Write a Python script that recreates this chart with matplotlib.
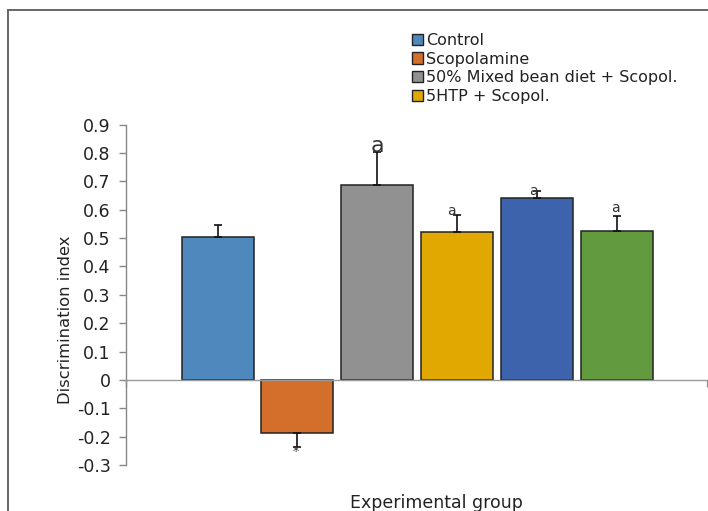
import matplotlib
matplotlib.use("Agg")
import matplotlib.pyplot as plt
from matplotlib.patches import Patch
from matplotlib.lines import Line2D
import numpy as np

plt.rcParams['font.family'] = ['DejaVu Sans']

groups = ["Control", "Scopolamine", "50% Mixed bean diet + Scopol.",
          "5HTP + Scopol.", "Group 5", "Group 6"]
values = [0.505, -0.186, 0.688, 0.521, 0.641, 0.525]
errors = [0.042, 0.049, 0.114, 0.060, 0.026, 0.053]
colors = ["#4F88BD", "#D36E2B", "#919191", "#E0A800", "#3D63AD", "#629A3F"]
legend_labels = ["Control", "Scopolamine", "50% Mixed bean diet + Scopol.", "5HTP + Scopol."]
annot_text = ["", "*", "a", "a", "a", "a"]
annot_x = [0, 0.98, 2.0, 2.93, 3.95, 4.98]
annot_y = [0, -0.253, 0.824, 0.596, 0.666, 0.607]
annot_size = [10, 9, 16, 10, 10, 10]
yticks = [-0.3, -0.2, -0.1, 0, 0.1, 0.2, 0.3, 0.4, 0.5, 0.6, 0.7, 0.8, 0.9]
ytick_labels = ["-0.3", "-0.2", "-0.1", "0", "0.1", "0.2", "0.3", "0.4", "0.5", "0.6", "0.7", "0.8", "0.9"]

W, H = 708, 511
fig = plt.figure(figsize=(W / 100, H / 100), dpi=100)
ax = fig.add_axes([126 / W, (H - 465) / H, (707 - 126) / W, (465 - 124.7) / H])

x = np.arange(len(values))
ax.bar(x, values, width=0.9, color=colors, edgecolor="#222222", linewidth=1.1, zorder=2)

lower = [e if v < 0 else 0 for v, e in zip(values, errors)]
upper = [e if v >= 0 else 0 for v, e in zip(values, errors)]
ax.errorbar(x, values, yerr=[lower, upper], fmt="none", ecolor="#111111",
            elinewidth=1.2, capsize=3, capthick=1.2, zorder=3)

for t, tx, ty, s in zip(annot_text, annot_x, annot_y, annot_size):
    if t:
        ax.text(tx, ty, t, ha="center", va="center", fontsize=s, color="#333333", zorder=4)

ax.set_xlim(-1.147, 6.13)
ax.set_ylim(-0.3, 0.9)
ax.set_yticks(yticks)
ax.set_yticklabels(ytick_labels)
ax.tick_params(axis="y", direction="out", length=5, width=1, color="#888888",
               labelsize=12.5, labelcolor="#222222", pad=6)

for s in ["top", "right"]:
    ax.spines[s].set_visible(False)
ax.spines["left"].set_color("#888888")
ax.spines["left"].set_linewidth(1)
ax.spines["bottom"].set_position(("data", 0))
ax.spines["bottom"].set_color("#999999")
ax.spines["bottom"].set_linewidth(1)
ax.set_xticks([-1.147, 6.13])
ax.set_xticklabels(["", ""])
ax.tick_params(axis="x", direction="out", length=5, width=1, color="#999999")

fig.text(65 / W, 1 - 320 / H, "Discrimination index", rotation=90, ha="center",
         va="center", fontsize=11.8, color="#222222")
fig.text(436 / W, 1 - 503 / H, "Experimental group", ha="center", va="center",
         fontsize=12.5, color="#222222")

handles = [Patch(facecolor=c, edgecolor="#222222", linewidth=1.0) for c in colors[:4]]
leg = fig.legend(handles, legend_labels, loc="upper left",
                 bbox_to_anchor=(412 / W, 1 - 33 / H), frameon=False,
                 fontsize=11.5, handlelength=0.7, handleheight=0.7,
                 handletextpad=0.2, labelspacing=0.23, borderpad=0, borderaxespad=0)
for t in leg.get_texts():
    t.set_color("#222222")

fig.add_artist(Line2D([8 / W, 8 / W], [0, 1 - 10 / H], transform=fig.transFigure,
                      color="#666666", linewidth=1.4))
fig.add_artist(Line2D([8 / W, 1], [1 - 10 / H, 1 - 10 / H], transform=fig.transFigure,
                      color="#666666", linewidth=1.4))

fig.savefig("out.png", dpi=100)
